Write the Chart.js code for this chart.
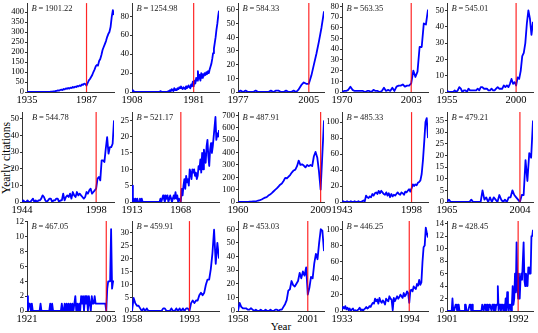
<!DOCTYPE html>
<html>
<head>
<meta charset="utf-8">
<script src="https://cdn.jsdelivr.net/npm/chart.js@4/dist/chart.umd.min.js"></script>
<style>
  html, body { margin: 0; padding: 0; background: #fff; }
  #fig { position: relative; width: 538px; height: 333px; overflow: hidden; background: #fff; }
  #fig canvas { position: absolute; }
  .lbl { position: absolute; font-family: 'Liberation Serif', serif; font-size: 11px; color: #000; white-space: nowrap; }
  #ylab { left: 6px; top: 158px; font-size: 11.5px; transform: translate(-50%, -50%) rotate(-90deg); }
  #xlab { left: 281px; top: 326px; transform: translate(-50%, -50%); }
</style>
</head>
<body>
<div id="fig">
  <div class="lbl" id="ylab">Yearly citations</div>
  <div class="lbl" id="xlab">Year</div>
</div>
<script>
// yearly citations of each paper, from its publication year up to lastYear
const lastYear = 2011;
const startYears = [1935, 1908, 1977, 1970, 1955, 1944, 1913, 1960, 1943, 1965, 1921, 1958, 1958, 1933, 1901];
const awakeYears = [1987, 1981, 2005, 2003, 2000, 1998, 1968, 2009, 1998, 2004, 2003, 1993, 2001, 1994, 1992];
const bScores = ['1901.22', '1254.98', '584.33', '563.35', '545.01', '544.78', '521.17', '487.91',
                 '485.33', '479.21', '467.05', '459.91', '453.03', '446.25', '428.45'];
const yTops = [445, 94, 65, 83, 54.5, 54, 27.5, 727, 112.5, 38.6, 12.1, 34.3, 66, 110, 14.4];
const ySteps = [50, 20, 10, 10, 10, 10, 5, 100, 20, 5, 2, 5, 10, 20, 2];

const cites1935 = [0,0,0,0,0,0,0,0,0,1,0,0,0,0,1,0,0,0,1,0,
  1,2,2,3,3,5,6,8,7,10, 12,10,15,13,18,16,20,17,22,20, 25,22,27,25,30,28,33,30,38,36,
  42,40,32,45,58,65,75,85,100,112, 128,135,132,155,165,185,210,225,240,255,
  275,290,300,325,375,410,385];
const cites1908 = [2,0,1,0,0,0,0,0,0,0, 0,0,0,0,0,0,0,0,0,0, 0,0,0,0,0,0,0,0,0,0,
  0,0,0,0,1,0,0,0,0,0, 0,0,0,1,0,2,1,3,2,1, 4,2,3,2,4,3,5,4,6,4, 3,5,4,3,6,4,5,7,5,4,
  8,6,11,6,12,9,15,12,22,14, 18,12,20,15,19,17,20,18,21,19, 22,20,24,27,30,35,41,46,52,58,
  66,72,80,86];
const cites1977 = [0,1,0,1,0,0,0,1,0,0, 0,0,0,1,0,1,1,0,0,1, 0,0,1,0,2,5,7,6,6,12, 20,28,37,47,59];
const cites1970 = [0,1,1,2,5,2,1,1,1,1, 1,0,1,1,0,2,1,1,0,1, 4,1,2,1,4,1,5,6,6,7,
  5,6,6,8,20,14,19,42,42,64, 63,77];
const cites1955 = [1,0,0,0,0,1,0,1,3,2, 0,1,1,0,2,1,1,1,1,1, 2,1,3,3,2,2,2,1,1,2,
  1,1,2,3,2,2,2,4,3,4, 3,5,8,5,6,4,9,8,13,22, 24,30,42,50,45,35,43];
const cites1944 = [0,1,0,0,1,0,0,1,2,0, 1,0,1,1,2,4,3,1,0,1, 2,2,0,1,1,2,2,0,1,1,
  5,1,3,4,3,5,2,6,4,3, 6,4,5,4,3,2,3,6,5,7, 8,5,6,7,8,14,15,13,25,25, 24,32,39,29,33,33,35,49];
const cites1913 = [5,0,1,0,1,0,1,0,0,1, 0,1,0,0,0,0,0,0,0,0, 0,0,0,0,0,0,0,0,0,0,
  0,0,1,0,1,2,1,0,2,1, 2,0,1,2,1,0,1,2,1,3, 1,2,0,1,1,0,4,2,5,7, 4,8,6,7,5,10,9,7,10,9,
  10,8,9,7,8,11,10,13,9,15, 10,16,14,12,17,19,14,11,16,18, 15,17,20,23,26,19,21,20,22];
const cites1960 = [0,0,0,0,0,1,1,2,2,4, 5,8,12,15,20,28,35,40,52,60,
  72,85,98,110,125,140,150,170,195,192, 205,220,240,255,262,290,335,300,305,295,
  280,300,290,300,290,370,405,360,250,100, 380,660];
const cites1943 = [0,1,0,0,1,0,0,1,0,0, 1,0,0,1,0,0,1,2,1,8, 6,5,7,6,10,8,11,12,10,14,
  11,14,12,10,9,12,8,11,6,10, 7,9,8,10,12,10,9,12,11,9, 13,12,14,16,13,17,22,20,22,21,
  24,25,27,35,52,75,100,105,80];
const cites1965 = [0,1,0,0,0,0,0,0,0,0, 0,0,0,1,0,0,0,0,0,5, 1,2,0,2,0,2,1,0,3,1,
  0,1,0,2,2,5,3,2,1,0, 3,3,18,9,21,19,35];
const cites1921 = [2,0,1,1,0,1,0,0,0,0, 0,0,0,0,1,0,0,0,0,0, 0,0,0,0,1,0,1,0,0,0,
  0,0,0,0,0,0,1,0,0,1, 0,1,0,1,0,1,0,1,0,1, 2,0,1,0,1,0,2,1,2,0, 2,1,2,0,2,1,0,2,1,1,
  2,1,1,1,1,1,1,1,1,1, 1,1,0,3,4,4,4,11,3,4, 4];
const cites1958a = [0,5,3,2,2,1,0,1,0,1, 0,0,0,0,0,0,0,0,0,1, 1,0,0,0,1,0,0,1,0,1,
  0,1,0,1,1,0,3,4,3,4, 4,6,7,6,7,10,12,12,16,22, 31,18,26,20];
const cites1958b = [0,6,3,2,2,2,1,1,2,1, 0,1,0,0,1,0,0,1,0,0, 1,0,0,1,1,0,1,1,3,5,
  8,15,16,22,19,18,20,22,28,24, 29,26,32,12,17,25,24,35,42,38, 50,60,59,44];
const cites1933 = [2,5,3,6,2,4,1,3,0,2, 3,0,1,0,1,2,4,1,2,0, 2,3,5,3,4,6,5,8,10,9,
  15,12,14,9,16,12,10,13,11,8, 15,13,12,18,15,14,1,16,12,15, 18,15,17,20,18,16,22,18,20,24,
  22,10,25,26,24,30,28,27,33,31, 38,32,35,60,78,80,102,95,90];
const cites1901 = [0,0,0,0,0,0,0,2,0,0, 0,1,1,0,1,1,0,0,0,0, 0,0,0,1,1,0,0,0,0,1,
  1,0,1,0,0,0,0,0,0,0, 0,0,0,0,0,1,1,0,1,1, 0,1,1,0,1,1,1,0,1,1, 0,1,0,1,1,4,0,1,1,0,
  1,1,0,1,0,2,0,3,1,0, 1,1,0,1,4,1,2,6,3,11, 4,2,6,2,5,6,5,5,11,5, 4,6,5,4,7,6,7,6,12,12, 13];

const citations = [cites1935, cites1908, cites1977, cites1970, cites1955, cites1944, cites1913, cites1960,
                   cites1943, cites1965, cites1921, cites1958a, cites1958b, cites1933, cites1901];

// panel placement
const plotLeft = [27, 132, 238, 342, 447];
const plotRight = [114, 219, 324, 428, 533];
const plotTop = [3, 112, 221];
const plotBottom = [92, 202, 311];
const AXW = 26, PADT = 6, PADR = 14, XH = 16;
const SERIF = "'Liberation Serif', 'DejaVu Serif', serif";

// red awakening line + B label
const sleeperMarks = {
  id: 'sleeper',
  afterDatasetsDraw(chart, args, opts) {
    const ctx = chart.ctx, a = chart.chartArea;
    const px = chart.scales.x.getPixelForValue(opts.awake);
    ctx.save();
    ctx.strokeStyle = 'rgba(255,0,0,0.85)';
    ctx.lineWidth = 1.2;
    ctx.beginPath();
    ctx.moveTo(px, a.top);
    ctx.lineTo(px, a.bottom);
    ctx.stroke();
    ctx.fillStyle = '#222';
    ctx.textBaseline = 'middle';
    const bx = a.left + opts.dx, by = a.top + 6;
    ctx.font = "italic 8.5px " + SERIF;
    ctx.fillText('B', bx, by);
    const bw = ctx.measureText('B').width;
    ctx.font = "8.5px " + SERIF;
    ctx.fillText('\u2009=\u2009' + opts.score, bx + bw, by);
    ctx.restore();
  }
};
Chart.register(sleeperMarks);

const fig = document.getElementById('fig');

citations.forEach((cites, i) => {
  const row = Math.floor(i / 5), col = i % 5;
  const left = i === 5 ? 22 : plotLeft[col];
  const right = plotRight[col];
  const top = plotTop[row], bottom = plotBottom[row];
  const w = AXW + (right - left) + PADR;
  const h = PADT + (bottom - top) + XH;
  const canvas = document.createElement('canvas');
  canvas.width = w;
  canvas.height = h;
  canvas.style.left = (left - AXW) + 'px';
  canvas.style.top = (top - PADT) + 'px';
  canvas.style.width = w + 'px';
  canvas.style.height = h + 'px';
  fig.appendChild(canvas);

  const start = startYears[i], step = ySteps[i];
  new Chart(canvas, {
    type: 'line',
    data: {
      datasets: [{
        data: cites.map((v, k) => ({ x: start + k, y: v })),
        borderColor: '#0000ff',
        borderWidth: 1.8,
        borderJoinStyle: 'round',
        pointRadius: 0,
        tension: 0,
        fill: false
      }]
    },
    options: {
      responsive: false,
      animation: false,
      events: [],
      layout: { padding: { top: PADT, right: PADR, left: 0, bottom: 0 } },
      plugins: {
        legend: { display: false },
        tooltip: { enabled: false },
        sleeper: { awake: awakeYears[i], score: bScores[i], dx: i === 5 ? 10 : 4.5 }
      },
      scales: {
        x: {
          type: 'linear', min: start, max: lastYear,
          grid: { display: false, drawTicks: false },
          border: { display: true, color: '#333', width: 1 },
          ticks: { autoSkip: false, maxRotation: 0, padding: 2, color: '#000',
                   font: { family: SERIF, size: 10.5 }, callback: v => String(v) },
          afterBuildTicks: s => { s.ticks = [{ value: start }, { value: awakeYears[i] }]; },
          afterFit: s => { s.height = XH; }
        },
        y: {
          min: 0, max: yTops[i],
          grid: { display: true, drawOnChartArea: false, drawTicks: true, tickLength: 2, color: '#333' },
          border: { display: true, color: '#333', width: 1 },
          ticks: { autoSkip: false, padding: 1, color: '#000', font: { family: SERIF, size: 8.5 } },
          afterBuildTicks: s => {
            const t = [];
            for (let v = 0; v <= yTops[i]; v += step) t.push({ value: v });
            s.ticks = t;
          },
          afterFit: s => { s.width = AXW; }
        }
      }
    }
  });
});
</script>
</body>
</html>
